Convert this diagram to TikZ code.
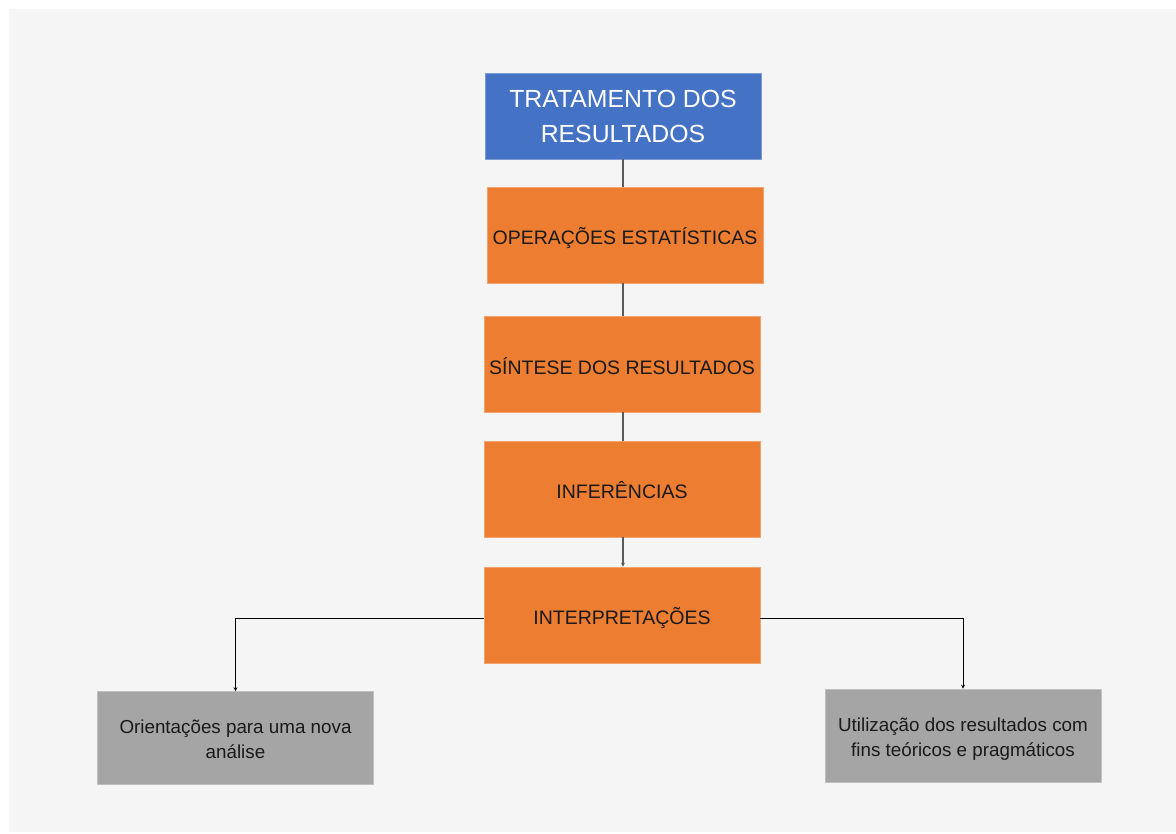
\documentclass[tikz,border=0pt]{standalone}
\usepackage{fontspec}
\setmainfont{Liberation Sans}
\usetikzlibrary{arrows.meta}
\definecolor{bgc}{HTML}{F5F5F5}
\definecolor{bluec}{HTML}{4472C4}
\definecolor{orangec}{HTML}{ED7D31}
\definecolor{grayc}{HTML}{A5A5A5}
\definecolor{linec}{HTML}{5A5A5A}
\definecolor{txtc}{HTML}{1A1A1A}
\newcommand{\lowertext}[2]{\raisebox{-#1}[\height][\depth]{#2}}
\tikzset{
  headbox/.style={fill=bluec, draw=bluec!70!white, line width=0.6pt, text=white, minimum width=276pt, minimum height=86pt, align=center, inner sep=0pt, font=\fontsize{24.8}{35}\selectfont},
  stagebox/.style={fill=orangec, draw=orangec!70!white, line width=0.6pt, text=txtc, minimum width=276pt, minimum height=96pt, align=center, inner sep=0pt, font=\fontsize{19.5}{24}\selectfont},
  outbox/.style={fill=grayc, draw=grayc!70!white, line width=0.6pt, text=txtc, minimum width=276pt, minimum height=93pt, align=center, inner sep=0pt, font=\fontsize{18.8}{25}\selectfont},
  vlink/.style={draw=linec, line width=1.4pt},
  hlink/.style={draw=black, line width=1pt, -{Stealth[length=4pt,width=4pt]}}
}
\begin{document}
\begin{tikzpicture}[x=1pt,y=-1pt]
\useasboundingbox (0,0) rectangle (1176,834);
\fill[bgc] (9,9) rectangle (1176,832);
\node[headbox] (head) at (623,116) {TRATAMENTO DOS\\RESULTADOS};
\node[stagebox] (ops) at (625,235) {\lowertext{3pt}{OPERAÇÕES ESTATÍSTICAS}};
\node[stagebox] (sint) at (622,364) {\lowertext{2pt}{SÍNTESE DOS RESULTADOS}};
\node[stagebox] (inf) at (622,489) {\lowertext{1pt}{INFERÊNCIAS}};
\node[stagebox] (interp) at (622,615) {\lowertext{3pt}{INTERPRETAÇÕES}};
\node[outbox] (orient) at (235.5,738) {\lowertext{3pt}{\begin{tabular}{@{}c@{}}Orientações para uma nova\\análise\end{tabular}}};
\node[outbox] (util) at (963,735.5) {\lowertext{3pt}{\begin{tabular}{@{}c@{}}Utilização dos resultados com\\fins teóricos e pragmáticos\end{tabular}}};
\draw[vlink] (head.south -| 623,0) -- (ops.north -| 623,0);
\draw[vlink] (ops.south -| 623,0) -- (sint.north -| 623,0);
\draw[vlink] (sint.south -| 623,0) -- (inf.north -| 623,0);
\draw[vlink, -{Stealth[length=4pt,width=4pt]}] (inf.south -| 623,0) -- (interp.north -| 623,0);
\draw[hlink] ([yshift=-3pt]interp.west) -| (orient.north);
\draw[hlink] ([yshift=-3pt]interp.east) -| (util.north);
\end{tikzpicture}
\end{document}
